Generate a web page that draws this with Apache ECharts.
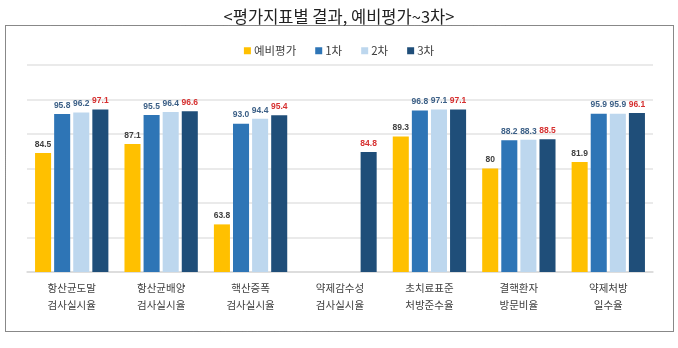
<!DOCTYPE html>
<html><head><meta charset="utf-8">
<script src="https://cdn.jsdelivr.net/npm/echarts@6/dist/echarts.min.js"></script>
<style>html,body{margin:0;padding:0;background:#fff}#c{width:678px;height:348px}</style>
</head><body><div id="c"></div>
<script>
const categories = ['항산균도말\n검사실시율','항산균배양\n검사실시율','핵산증폭\n검사실시율','약제감수성\n검사실시율','초치료표준\n처방준수율','결핵환자\n방문비율','약제처방\n일수율'];
const seriesNames = ['예비평가','1차','2차','3차'];
const prelim = [84.5, 87.1, 63.8, null, 89.3, 80, 81.9];
const round1 = [95.8, 95.5, 93.0, null, 96.8, 88.2, 95.9];
const round2 = [96.2, 96.4, 94.4, null, 97.1, 88.3, 95.9];
const round3 = [97.1, 96.6, 95.4, 84.8, 97.1, 88.5, 96.1];
const yTicks = [50, 60, 70, 80, 90, 100, 110];

const colors = ['#FFC000', '#2E75B6', '#BDD7EE', '#1F4E79'];
const labelColors = ['#404040', '#3B5F86', '#3B5F86', '#D62F2F'];
const fonts = '"Noto Sans CJK KR", "Noto Sans", sans-serif';
const data = [prelim, round1, round2, round3];

const chart = echarts.init(document.getElementById('c'), null, {renderer: 'canvas'});
chart.setOption({
  animation: false,
  title: {
    text: '<평가지표별 결과, 예비평가~3차>',
    left: 'center', top: 3,
    textStyle: {fontFamily: fonts, fontSize: 16.5, fontWeight: 'normal', color: '#222'}
  },
  legend: {
    data: seriesNames, top: 40, left: 'center',
    itemWidth: 7, itemHeight: 7, itemGap: 19, icon: 'rect',
    textStyle: {fontFamily: fonts, fontSize: 11.5, color: '#404040', padding: [0, 0, 0, -2]}
  },
  graphic: [{
    type: 'rect', z: -1, silent: true,
    shape: {x: 5.5, y: 25.5, width: 668, height: 306},
    style: {fill: 'none', stroke: '#111', lineWidth: 1, lineDash: [1, 1]}
  }],
  grid: {left: 27, right: 25, top: 65, bottom: 76},
  xAxis: {
    type: 'category', data: categories,
    axisLine: {show: true, lineStyle: {color: '#D9D9D9', width: 1.5}},
    axisTick: {show: false},
    axisLabel: {fontFamily: fonts, fontSize: 10.5, color: '#404040', lineHeight: 17, margin: 8, interval: 0}
  },
  yAxis: {
    type: 'value', min: yTicks[0], max: yTicks[yTicks.length - 1], interval: 10,
    axisLabel: {show: false}, axisLine: {show: false}, axisTick: {show: false},
    splitLine: {lineStyle: {color: '#E3E3E3', width: 1.5}}
  },
  series: seriesNames.map((name, i) => ({
    name, type: 'bar', data: data[i],
    barCategoryGap: '18%', barGap: '19%',
    itemStyle: {color: colors[i]},
    label: {
      show: true, position: 'top', distance: 4,
      fontFamily: '"Liberation Sans", Arial, sans-serif', fontSize: 8.5, fontWeight: 'bold',
      color: labelColors[i],
      formatter: p => p.value == null ? '' : (i === 0 ? String(p.value) : Number(p.value).toFixed(1))
    }
  }))
});
</script></body></html>
